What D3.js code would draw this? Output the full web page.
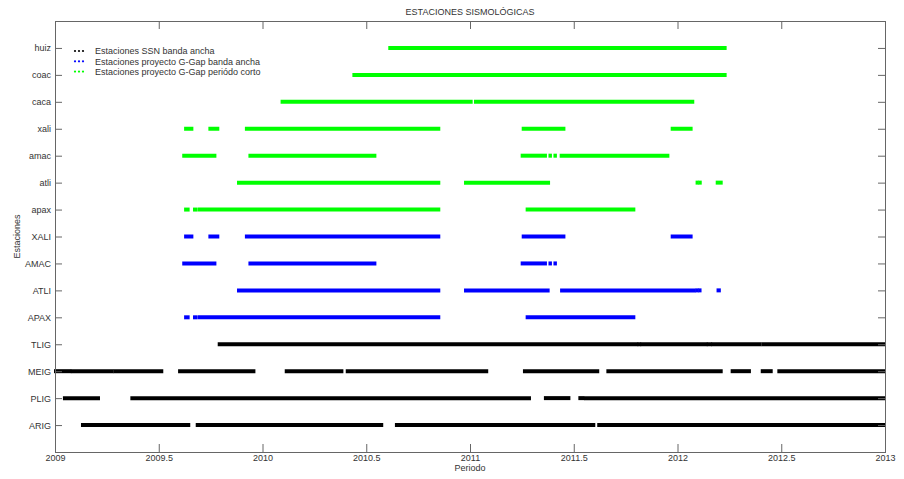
<!DOCTYPE html>
<html>
<head>
<meta charset="utf-8">
<script src="https://cdn.jsdelivr.net/npm/d3@7"></script>
<style>
  html, body { margin: 0; padding: 0; background: #fff; }
  svg { display: block; font-family: "Liberation Sans", Arial, sans-serif; }
</style>
</head>
<body>
<svg id="chart" width="904" height="479"></svg>
<script>
// Stations, bottom to top
const stations = ["ARIG", "PLIG", "MEIG", "TLIG", "APAX", "ATLI", "AMAC", "XALI",
                  "apax", "atli", "amac", "xali", "caca", "coac", "huiz"];

const xTicks = [2009, 2009.5, 2010, 2010.5, 2011, 2011.5, 2012, 2012.5, 2013];
const xTickLabels = ["2009", "2009.5", "2010", "2010.5", "2011", "2011.5", "2012", "2012.5", "2013"];

// Recording periods: [station, start, end] in decimal years
const ssnBroadband = [
  ["ARIG", 2009.130, 2009.647], ["ARIG", 2009.683, 2010.577], ["ARIG", 2010.643, 2011.599],
  ["ARIG", 2011.618, 2013.000],
  ["PLIG", 2009.043, 2009.212], ["PLIG", 2009.368, 2011.289], ["PLIG", 2011.361, 2011.479],
  ["PLIG", 2011.527, 2011.546], ["PLIG", 2011.554, 2013.000],
  ["MEIG", 2009.000, 2009.074], ["MEIG", 2009.081, 2009.278], ["MEIG", 2009.286, 2009.517],
  ["MEIG", 2009.598, 2009.961], ["MEIG", 2010.112, 2010.385], ["MEIG", 2010.406, 2011.083],
  ["MEIG", 2011.260, 2011.618], ["MEIG", 2011.662, 2012.213], ["MEIG", 2012.261, 2012.349],
  ["MEIG", 2012.406, 2012.454], ["MEIG", 2012.486, 2013.000],
  ["TLIG", 2009.789, 2011.806], ["TLIG", 2011.812, 2011.820], ["TLIG", 2011.826, 2012.140],
  ["TLIG", 2012.146, 2012.162], ["TLIG", 2012.168, 2012.401], ["TLIG", 2012.410, 2013.000]
];

const ggapBroadband = [
  ["APAX", 2009.627, 2009.644], ["APAX", 2009.670, 2009.683], ["APAX", 2009.694, 2010.852],
  ["APAX", 2011.273, 2011.792],
  ["ATLI", 2009.882, 2010.852], ["ATLI", 2010.976, 2011.379], ["ATLI", 2011.439, 2012.084],
  ["ATLI", 2012.092, 2012.098], ["ATLI", 2012.105, 2012.111], ["ATLI", 2012.193, 2012.204],
  ["AMAC", 2009.618, 2009.773], ["AMAC", 2009.937, 2010.544], ["AMAC", 2011.249, 2011.366],
  ["AMAC", 2011.383, 2011.390], ["AMAC", 2011.407, 2011.414],
  ["XALI", 2009.627, 2009.662], ["XALI", 2009.744, 2009.787], ["XALI", 2009.920, 2010.852],
  ["XALI", 2011.254, 2011.455], ["XALI", 2011.972, 2012.068]
];

const ggapShortPeriod = [
  ["apax", 2009.627, 2009.644], ["apax", 2009.670, 2009.683], ["apax", 2009.694, 2010.852],
  ["apax", 2011.273, 2011.792],
  ["atli", 2009.882, 2010.852], ["atli", 2010.976, 2011.381], ["atli", 2012.092, 2012.098],
  ["atli", 2012.105, 2012.112], ["atli", 2012.189, 2012.213],
  ["amac", 2009.618, 2009.773], ["amac", 2009.937, 2010.544], ["amac", 2011.249, 2011.366],
  ["amac", 2011.383, 2011.390], ["amac", 2011.407, 2011.414], ["amac", 2011.437, 2011.956],
  ["xali", 2009.627, 2009.662], ["xali", 2009.744, 2009.787], ["xali", 2009.920, 2010.852],
  ["xali", 2011.254, 2011.455], ["xali", 2011.972, 2012.068],
  ["caca", 2010.092, 2011.008], ["caca", 2011.024, 2012.076],
  ["coac", 2010.438, 2012.232],
  ["huiz", 2010.611, 2012.232]
];

const seriesNames = ["Estaciones SSN banda ancha",
                     "Estaciones proyecto G-Gap banda ancha",
                     "Estaciones proyecto G-Gap periódo corto"];
const seriesColors = ["#000000", "#0000ff", "#00ff00"];

const svg = d3.select("#chart");
const plotLeft = 55, plotRight = 885, plotTop = 21, plotBottom = 452;
const axisColor = "#666";
const textColor = "#333";

const x = d3.scaleLinear().domain([2009, 2013]).range([plotLeft, plotRight]);
const y = d3.scaleLinear().domain([0, 16]).range([plotBottom, plotTop]);
const rowY = name => y(stations.indexOf(name) + 1);

// Recording periods drawn as thick bands
const groups = [ssnBroadband, ggapBroadband, ggapShortPeriod];
groups.forEach((segs, i) => {
  svg.append("g").selectAll("line").data(segs).join("line")
    .attr("x1", d => x(d[1]) - 1)
    .attr("x2", d => x(d[2]) + 1)
    .attr("y1", d => rowY(d[0]))
    .attr("y2", d => rowY(d[0]))
    .attr("stroke", seriesColors[i])
    .attr("stroke-width", 4)
    .attr("stroke-linecap", "butt");
});

// Frame
svg.append("rect")
  .attr("x", plotLeft + 0.5).attr("y", plotTop + 0.5)
  .attr("width", plotRight - plotLeft).attr("height", plotBottom - plotTop)
  .attr("fill", "none").attr("stroke", axisColor).attr("stroke-width", 1);

// X axes (bottom with labels, top ticks only)
const xAxisB = d3.axisBottom(x).tickValues(xTicks)
  .tickFormat((d, i) => xTickLabels[i]).tickSizeInner(-8).tickSizeOuter(0).tickPadding(3);
const gxb = svg.append("g").attr("transform", `translate(0,${plotBottom})`).call(xAxisB);
const xAxisT = d3.axisTop(x).tickValues(xTicks).tickFormat("").tickSizeInner(-8).tickSizeOuter(0);
const gxt = svg.append("g").attr("transform", `translate(0,${plotTop})`).call(xAxisT);

// Y axes (left with station names, right ticks only)
const yVals = d3.range(1, stations.length + 1);
const yAxisL = d3.axisLeft(y).tickValues(yVals)
  .tickFormat(d => stations[d - 1]).tickSizeInner(-7).tickSizeOuter(0).tickPadding(4);
const gyl = svg.append("g").attr("transform", `translate(${plotLeft},0)`).call(yAxisL);
const yAxisR = d3.axisRight(y).tickValues(yVals).tickFormat("").tickSizeInner(-7).tickSizeOuter(0);
const gyr = svg.append("g").attr("transform", `translate(${plotRight},0)`).call(yAxisR);

[gxb, gxt, gyl, gyr].forEach(g => {
  g.select(".domain").remove();
  g.selectAll(".tick line").attr("stroke", axisColor);
  g.selectAll(".tick text").attr("fill", textColor)
    .style("font-size", "9px").style("font-family", "'Liberation Sans', Arial, sans-serif");
});
gyl.selectAll(".tick text").attr("dy", "0.33em");

// Title and axis labels
svg.append("text").attr("x", (plotLeft + plotRight) / 2).attr("y", 15)
  .attr("text-anchor", "middle").attr("fill", textColor)
  .style("font-size", "9px").text("ESTACIONES SISMOLÓGICAS");
svg.append("text").attr("x", (plotLeft + plotRight) / 2).attr("y", 471)
  .attr("text-anchor", "middle").attr("fill", textColor)
  .style("font-size", "9px").text("Periodo");
svg.append("text")
  .attr("transform", `translate(20,${(plotTop + plotBottom) / 2}) rotate(-90)`)
  .attr("text-anchor", "middle").attr("fill", textColor)
  .style("font-size", "9px").text("Estaciones");

// Legend
const legend = svg.append("g").attr("transform", "translate(74,51)");
seriesNames.forEach((name, i) => {
  const row = legend.append("g").attr("transform", `translate(0,${i * 10.3})`);
  [0, 4, 8].forEach(dx => {
    row.append("circle").attr("cx", dx + 1).attr("cy", 0).attr("r", 1.1)
      .attr("fill", seriesColors[i]);
  });
  row.append("text").attr("x", 21).attr("y", 3.3)
    .attr("fill", textColor).style("font-size", "9px").text(name);
});
</script>
</body>
</html>
